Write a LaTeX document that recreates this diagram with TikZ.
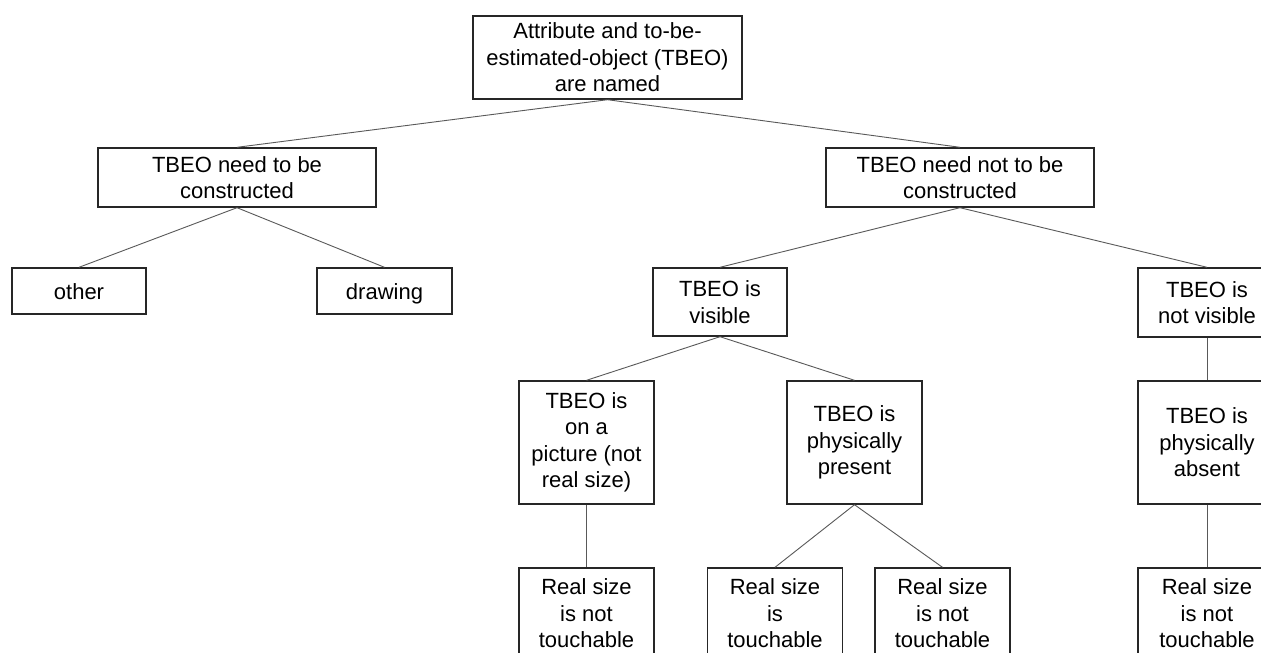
\documentclass[tikz,border=0pt]{standalone}
\usepackage{fontspec}
\setmainfont{Liberation Sans}
\begin{document}
\begin{tikzpicture}[x=1pt,y=-1pt,
  box/.style={draw=black!85, line width=1.4pt, align=center, inner sep=0pt,
    font=\fontsize{22}{26.5}\selectfont},
  oneline/.style={text height=16pt, text depth=0pt},
  link/.style={draw=black!65, line width=0.9pt}]
\clip (0,0) rectangle (1261,653);
\fill[white] (0,0) rectangle (1261,653);

% level 0
\node[box, minimum width=269pt, minimum height=83pt] (top) at (607.5,57.5)
  {Attribute and to-be-\\estimated-object (TBEO)\\are named};

% level 1
\node[box, minimum width=278pt, minimum height=59pt] (need) at (237,177.5)
  {TBEO need to be\\constructed};
\node[box, minimum width=268pt, minimum height=59pt] (neednot) at (960,177.5)
  {TBEO need not to be\\constructed};

% level 2
\node[box, oneline, minimum width=134pt, minimum height=46pt] (other) at (79,291) {other};
\node[box, oneline, minimum width=135pt, minimum height=46pt] (drawing) at (384.5,291) {drawing};
\node[box, minimum width=134pt, minimum height=68pt] (vis) at (720,302) {TBEO is\\visible};
\node[box, minimum width=138pt, minimum height=69pt] (nvis) at (1207,302.5) {TBEO is\\not visible};

% level 3
\node[box, minimum width=135pt, minimum height=123pt] (pic) at (586.5,442.5)
  {TBEO is\\on a\\picture (not\\real size)};
\node[box, minimum width=135pt, minimum height=123pt] (pres) at (854.5,442.5)
  {TBEO is\\physically\\present};
\node[box, minimum width=138pt, minimum height=123pt] (abs) at (1207,442.5)
  {TBEO is\\physically\\absent};

% level 4
\node[box, minimum width=135pt, minimum height=91pt] (picnt) at (586.5,613.5)
  {Real size\\is not\\touchable};
\node[box, minimum width=135pt, minimum height=91pt] (prest) at (775,613.5)
  {Real size\\is\\touchable};
\node[box, minimum width=135pt, minimum height=91pt] (presnt) at (942.5,613.5)
  {Real size\\is not\\touchable};
\node[box, minimum width=138pt, minimum height=91pt] (absnt) at (1207,613.5)
  {Real size\\is not\\touchable};

% connectors
\draw[link] (top.south) -- (need.north);
\draw[link] (top.south) -- (neednot.north);
\draw[link] (need.south) -- (other.north);
\draw[link] (need.south) -- (drawing.north);
\draw[link] (neednot.south) -- (vis.north);
\draw[link] (neednot.south) -- (nvis.north);
\draw[link] (vis.south) -- (pic.north);
\draw[link] (vis.south) -- (pres.north);
\draw[link] (nvis.south) -- (abs.north);
\draw[link] (pic.south) -- (picnt.north);
\draw[link] (pres.south) -- (prest.north);
\draw[link] (pres.south) -- (presnt.north);
\draw[link] (abs.south) -- (absnt.north);
\end{tikzpicture}
\end{document}
